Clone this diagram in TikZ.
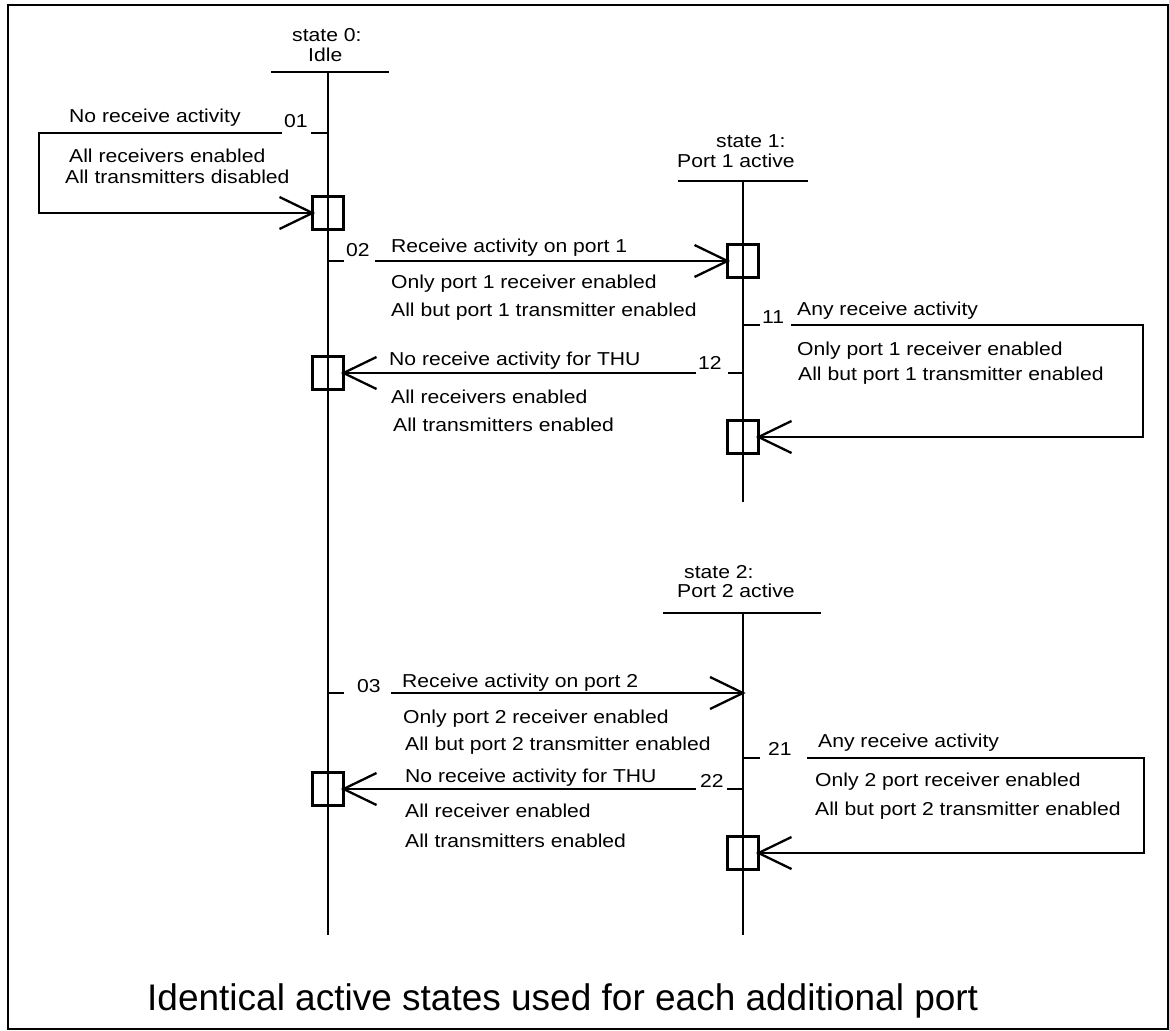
\documentclass[tikz,border=0pt]{standalone}
\usepackage{fontspec}
\setmainfont{Liberation Sans}
\newfontfamily\lblfont[FakeStretch=1.13]{Liberation Sans}
\tikzset{
  ln/.style={line width=2.3pt},
  stbox/.style={draw, line width=2.3pt, minimum width=31pt, minimum height=33pt, inner sep=0pt, outer sep=0pt},
  lbl/.style={anchor=base west, inner sep=0pt, font={\lblfont\fontsize{18.7}{22}\selectfont}},
  pics/vhead/.style={code={\draw[line width=2.3pt] (-33,-16) -- (0,0) -- (-33,16);}}
}
\begin{document}
\begin{tikzpicture}[x=1pt,y=-1pt]
\useasboundingbox (0,0) rectangle (1169,1030);
\draw[line width=2.6pt] (8,5) rectangle (1168.5,1029);

% state lines
\coordinate (s0top) at (328,72);
\coordinate (s0bot) at (328,935);
\coordinate (s1top) at (743,181);
\coordinate (s1bot) at (743,502);
\coordinate (s2top) at (743,613);
\coordinate (s2bot) at (743,935);
\draw[ln] (271,72) -- (389,72);
\draw[ln] (678,181) -- (808,181);
\draw[ln] (663,613) -- (821,613);
\draw[ln] (s0top) -- (s0bot);
\draw[ln] (s1top) -- (s1bot);
\draw[ln] (s2top) -- (s2bot);

% state titles
\node[lbl] (h0a) at (292,42) {state 0:};
\node[lbl] (h0b) at (308,62) {Idle};
\node[lbl] (h1a) at (716,147) {state 1:};
\node[lbl] (h1b) at (677,167) {Port 1 active};
\node[lbl] (h2a) at (684,578) {state 2:};
\node[lbl] (h2b) at (677,597) {Port 2 active};

% boxes
\node[stbox] (b0a) at (328,213) {};
\node[stbox] (b0b) at (328,373) {};
\node[stbox] (b0c) at (328,789) {};
\node[stbox] (b1a) at (743,261) {};
\node[stbox] (b1b) at (743,437) {};
\node[stbox] (b2b) at (743,853) {};

% transition 01
\node[lbl] (n01) at (284,128) {01};
\coordinate (c01a) at (328,133);
\coordinate (c01b) at (311,133);
\coordinate (c01c) at (282,133);
\coordinate (c01d) at (39,133);
\draw[ln] (c01a) -- (c01b);
\draw[ln] (c01c) -- (c01d) |- (b0a.west);
\pic at (b0a.west) {vhead};
\node[lbl] at (69,123) {No receive activity};
\node[lbl] at (69,162) {All receivers enabled};
\node[lbl] at (65,183) {All transmitters disabled};

% transition 02
\node[lbl] (n02) at (346,256) {02};
\coordinate (c02a) at (328,261);
\coordinate (c02b) at (344,261);
\coordinate (c02c) at (375,261);
\draw[ln] (c02a) -- (c02b);
\draw[ln] (c02c) -- (b1a.west);
\pic at (b1a.west) {vhead};
\node[lbl] at (391,252) {Receive activity on port 1};
\node[lbl] at (391,288) {Only port 1 receiver enabled};
\node[lbl] at (391,316) {All but port 1 transmitter enabled};

% transition 11
\node[lbl] (n11) at (762,323) {11};
\coordinate (c11a) at (743,325);
\coordinate (c11b) at (760,325);
\coordinate (c11c) at (791,325);
\coordinate (c11d) at (1143,325);
\draw[ln] (c11a) -- (c11b);
\draw[ln] (c11c) -- (c11d) |- (b1b.east);
\pic[rotate=180] at (b1b.east) {vhead};
\node[lbl] at (797,315) {Any receive activity};
\node[lbl] at (797,355) {Only port 1 receiver enabled};
\node[lbl] at (798,380) {All but port 1 transmitter enabled};

% transition 12
\node[lbl] (n12) at (698,369) {12};
\coordinate (c12a) at (743,373);
\coordinate (c12b) at (728,373);
\coordinate (c12c) at (696,373);
\draw[ln] (c12a) -- (c12b);
\draw[ln] (c12c) -- (b0b.east);
\pic[rotate=180] at (b0b.east) {vhead};
\node[lbl] at (389,365) {No receive activity for THU};
\node[lbl] at (391,403) {All receivers enabled};
\node[lbl] at (393,431) {All transmitters enabled};

% transition 03
\node[lbl] (n03) at (357,692) {03};
\coordinate (c03a) at (328,693);
\coordinate (c03b) at (344,693);
\coordinate (c03c) at (391,693);
\coordinate (c03d) at (743,693);
\draw[ln] (c03a) -- (c03b);
\draw[ln] (c03c) -- (c03d);
\pic at (c03d) {vhead};
\node[lbl] at (402,687) {Receive activity on port 2};
\node[lbl] at (403,723) {Only port 2 receiver enabled};
\node[lbl] at (405,750) {All but port 2 transmitter enabled};

% transition 21
\node[lbl] (n21) at (768,755) {21};
\coordinate (c21a) at (743,758);
\coordinate (c21b) at (760,758);
\coordinate (c21c) at (807,758);
\coordinate (c21d) at (1144,758);
\draw[ln] (c21a) -- (c21b);
\draw[ln] (c21c) -- (c21d) |- (b2b.east);
\pic[rotate=180] at (b2b.east) {vhead};
\node[lbl] at (818,747) {Any receive activity};
\node[lbl] at (815,786) {Only 2 port receiver enabled};
\node[lbl] at (815,815) {All but port 2 transmitter enabled};

% transition 22
\node[lbl] (n22) at (700,787) {22};
\coordinate (c22a) at (743,789);
\coordinate (c22b) at (727,789);
\coordinate (c22c) at (696,789);
\draw[ln] (c22a) -- (c22b);
\draw[ln] (c22c) -- (b0c.east);
\pic[rotate=180] at (b0c.east) {vhead};
\node[lbl] at (405,782) {No receive activity for THU};
\node[lbl] at (405,817) {All receiver enabled};
\node[lbl] at (405,847) {All transmitters enabled};

% caption
\node[anchor=base west, inner sep=0pt, font={\fontsize{37}{44}\selectfont}] (cap) at (147,1010) {Identical active states used for each additional port};
\end{tikzpicture}
\end{document}
